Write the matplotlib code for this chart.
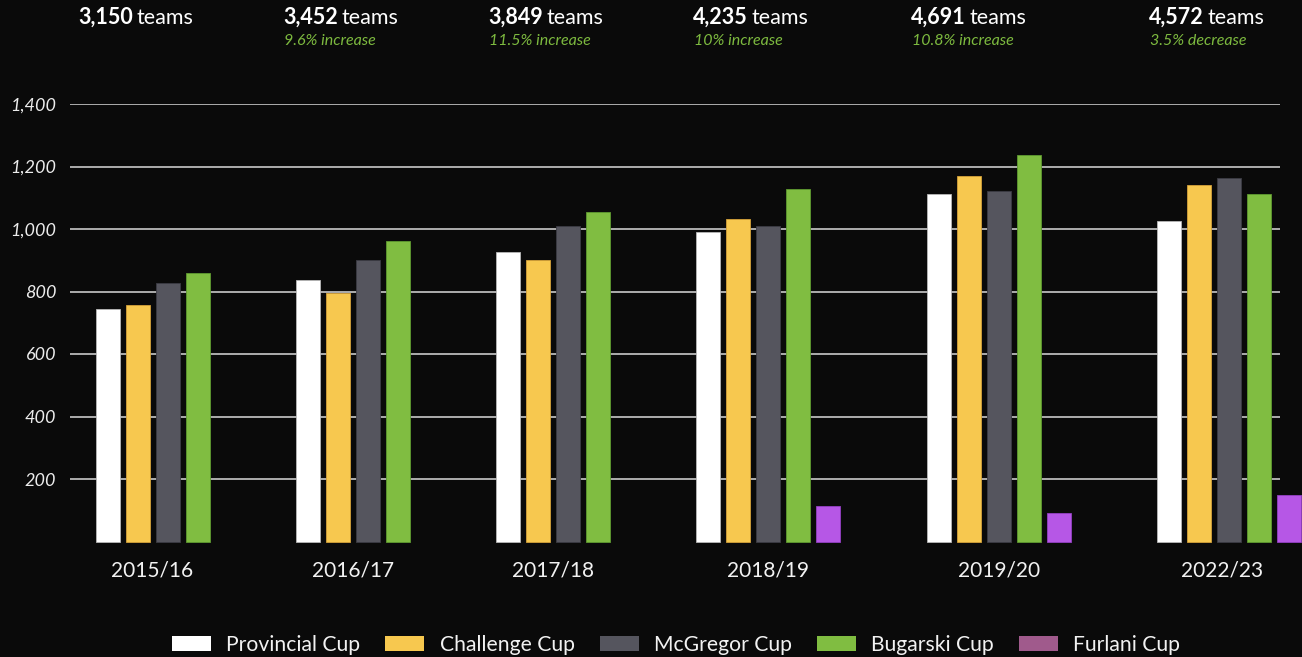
import matplotlib
matplotlib.use("Agg")
import matplotlib.pyplot as plt
from matplotlib.patches import Patch
import numpy as np

# ---- data ----
seasons = ["2015/16", "2016/17", "2017/18", "2018/19", "2019/20", "2022/23"]
series_names = ["Provincial Cup", "Challenge Cup", "McGregor Cup", "Bugarski Cup", "Furlani Cup"]
provincial = [744, 837, 925, 991, 1111, 1026]
challenge = [756, 794, 900, 1032, 1170, 1140]
mcgregor = [828, 901, 1011, 1011, 1121, 1162]
bugarski = [858, 962, 1054, 1128, 1236, 1111]
furlani = [None, None, None, 114, 92, 148]
totals = ["3,150", "3,452", "3,849", "4,235", "4,691", "4,572"]
changes = ["", "9.6% increase", "11.5% increase", "10% increase", "10.8% increase", "3.5% decrease"]
yticks = [200, 400, 600, 800, 1000, 1200, 1400]

# ---- style ----
bar_colors = ["#ffffff", "#f7c84f", "#55555e", "#80bd41", "#b657e6"]
edge_colors = ["#b8b8b8", "#d6a23a", "#3c3c44", "#5f9a30", "#9440c4"]
legend_colors = ["#ffffff", "#f7c84f", "#55555e", "#80bd41", "#a05a8c"]
BG = "#0a0a0a"
FONT = "Lato"

W, H = 1302, 657
fig = plt.figure(figsize=(W / 100, H / 100), dpi=100, facecolor=BG)
ax_left, ax_right = 70, 1280
ax_top, ax_bottom = 104, 541.5
ax = fig.add_axes([ax_left / W, 1 - ax_bottom / H, (ax_right - ax_left) / W, (ax_bottom - ax_top) / H])
ax.set_facecolor(BG)

series = [provincial, challenge, mcgregor, bugarski, furlani]
slot = 30.0
gap = 80.3 / slot
width = 24 / slot

x = 0.0
group_centers = []
for gi in range(len(seasons)):
    xs = []
    for si, s in enumerate(series):
        v = s[gi]
        if v is None:
            continue
        ax.bar(x, v, width=width, color=bar_colors[si], edgecolor=edge_colors[si],
               linewidth=0.6, zorder=3, clip_on=False)
        xs.append(x)
        x += 1
    group_centers.append(np.mean(xs))
    x += gap

first_px = 107.5
ax.set_xlim((ax_left - first_px) / slot, (ax_right - first_px) / slot)
ax.set_ylim(0, 1400)

# last label kept inside the plotting area as in the reference
label_pos = list(group_centers)
label_pos[-1] = min(label_pos[-1], (1222 - first_px) / slot)

ax.set_yticks(yticks)
ax.set_yticklabels([f"{v:,}" for v in yticks], fontfamily=FONT, fontstyle="italic",
                   fontsize=13, color="#ececec")
ax.set_xticks(label_pos)
ax.set_xticklabels(seasons, fontfamily=FONT, fontsize=15, color="#f2f2f2")
ax.tick_params(axis="y", length=0, pad=10)
ax.tick_params(axis="x", length=0, pad=14)
for sp in ax.spines.values():
    sp.set_visible(False)
ax.grid(axis="y", color="#c8c8c8", linewidth=1.2, zorder=0)
ax.set_axisbelow(True)

# ---- header texts ----
header_left = [78, 283, 488, 693, 911, 1149]
renderer = fig.canvas.get_renderer()
for i in range(len(seasons)):
    xl = header_left[i] / W
    t1 = fig.text(xl, 1 - 24 / H, totals[i], fontfamily=FONT, fontweight="bold",
                  fontsize=15.5, color="#ffffff", ha="left", va="baseline")
    bb = t1.get_window_extent(renderer=renderer)
    fig.text((bb.x1 + 4) / W, 1 - 24 / H, "teams", fontfamily=FONT,
             fontsize=15.5, color="#ffffff", ha="left", va="baseline")
    if changes[i]:
        fig.text(xl + 1 / W, 1 - 45 / H, changes[i], fontfamily=FONT, fontstyle="italic",
                 fontsize=11.5, color="#7dba3f", ha="left", va="baseline")

# ---- legend ----
handles = [Patch(facecolor=legend_colors[i], edgecolor="none", label=series_names[i])
           for i in range(len(series_names))]
leg = fig.legend(handles=handles, loc="center", bbox_to_anchor=(676 / W, 1 - 645 / H),
                 ncol=5, frameon=False, handlelength=1.85, handleheight=0.72,
                 handletextpad=0.72, columnspacing=1.18,
                 prop={"family": FONT, "size": 15.2})
for t in leg.get_texts():
    t.set_color("#f2f2f2")

fig.savefig("out.png", dpi=100, facecolor=BG)
